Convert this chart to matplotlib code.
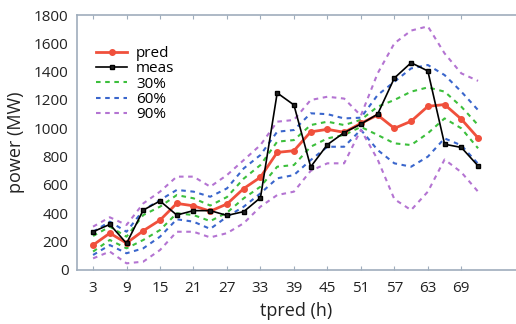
import numpy as np
import matplotlib
matplotlib.use("Agg")
import matplotlib.pyplot as plt

plt.rcParams['font.family'] = ['Open Sans', 'DejaVu Sans']

hours = [3, 6, 9, 12, 15, 18, 21, 24, 27, 30, 33, 36, 39, 42, 45, 48, 51, 54, 57, 60, 63, 66, 69, 72]

meas = [270, 322, 188, 423, 487, 388, 419, 419, 385, 412, 510, 1250, 1165, 728, 885, 970,
        1030, 1100, 1355, 1463, 1405, 888, 865, 735]
pred = [176, 260, 190, 277, 352, 470, 453, 415, 466, 575, 655, 830, 842, 975, 993, 972,
        1035, 1094, 1000, 1050, 1155, 1168, 1065, 932]

# quantile bands (upper / lower)
green_hi = [240, 306, 235, 388, 447, 529, 506, 455, 515, 645, 741, 906, 917, 1023, 1047, 1023,
            1060, 1153, 1200, 1259, 1289, 1259, 1153, 1023]
green_lo = [130, 212, 153, 212, 282, 400, 388, 345, 405, 506, 588, 729, 741, 870, 929, 953,
            1010, 953, 894, 882, 965, 1070, 1000, 859]
blue_hi = [270, 341, 270, 423, 494, 565, 553, 517, 576, 717, 812, 976, 988, 1106, 1100, 1070,
           1075, 1235, 1329, 1423, 1447, 1376, 1259, 1129]
blue_lo = [106, 176, 118, 153, 235, 358, 341, 290, 376, 447, 541, 647, 670, 776, 870, 870,
           990, 847, 753, 729, 800, 929, 880, 750]
purple_hi = [306, 372, 318, 470, 553, 659, 659, 588, 670, 776, 882, 1047, 1059, 1200, 1223, 1210,
             1090, 1388, 1600, 1690, 1720, 1529, 1388, 1335]
purple_lo = [82, 130, 47, 59, 141, 270, 270, 230, 260, 330, 447, 529, 553, 700, 753, 753,
             990, 780, 500, 423, 553, 780, 690, 553]

xtick_vals = [3, 9, 15, 21, 27, 33, 39, 45, 51, 57, 63, 69]

RED = '#f0503c'
GREEN = '#3cbf3c'
BLUE = '#3a66cc'
PURPLE = '#b474d2'

fig = plt.figure(figsize=(5.16, 3.24), dpi=100)
ax = fig.add_axes([0.149, 0.1667, 0.851, 0.787])

dash = (0, (2.2, 2.2))
ax.plot(hours, pred, color=RED, lw=2, marker='o', ms=4, label='pred', zorder=5)
ax.plot(hours, meas, color='black', lw=1.2, marker='s', ms=3.5, mfc='#222222', label='meas', zorder=6)
ax.plot(hours, green_hi, color=GREEN, lw=1.5, ls=dash, label='30%')
ax.plot(hours, blue_hi, color=BLUE, lw=1.5, ls=dash, label='60%')
ax.plot(hours, purple_hi, color=PURPLE, lw=1.5, ls=dash, label='90%')
ax.plot(hours, green_lo, color=GREEN, lw=1.5, ls=dash)
ax.plot(hours, blue_lo, color=BLUE, lw=1.5, ls=dash)
ax.plot(hours, purple_lo, color=PURPLE, lw=1.5, ls=dash)

ax.set_xlim(0.1, 78.8)
ax.set_ylim(0, 1800)
ax.set_xticks(xtick_vals)
ax.set_yticks(range(0, 1801, 200))

spine_col = '#9fadbc'
for s in ['left', 'bottom', 'top']:
    ax.spines[s].set_color(spine_col)
    ax.spines[s].set_linewidth(1.2)
ax.spines['right'].set_visible(False)
ax.tick_params(axis='x', direction='in', length=3, color=spine_col, top=True,
               labelsize=11, pad=8, labelcolor='#222222')
ax.tick_params(axis='y', length=0, labelsize=11, pad=6, labelcolor='#222222')

ax.set_xlabel('tpred (h)', fontsize=13, labelpad=4, color='#222222')
ax.set_ylabel('power (MW)', fontsize=13, labelpad=6, color='#222222')

ax.legend(loc='upper left', bbox_to_anchor=(0.02, 0.92), frameon=False, fontsize=11,
          handlelength=2.0, handletextpad=0.6, labelspacing=0.02, borderpad=0.2)

fig.savefig('out.png', dpi=100)
